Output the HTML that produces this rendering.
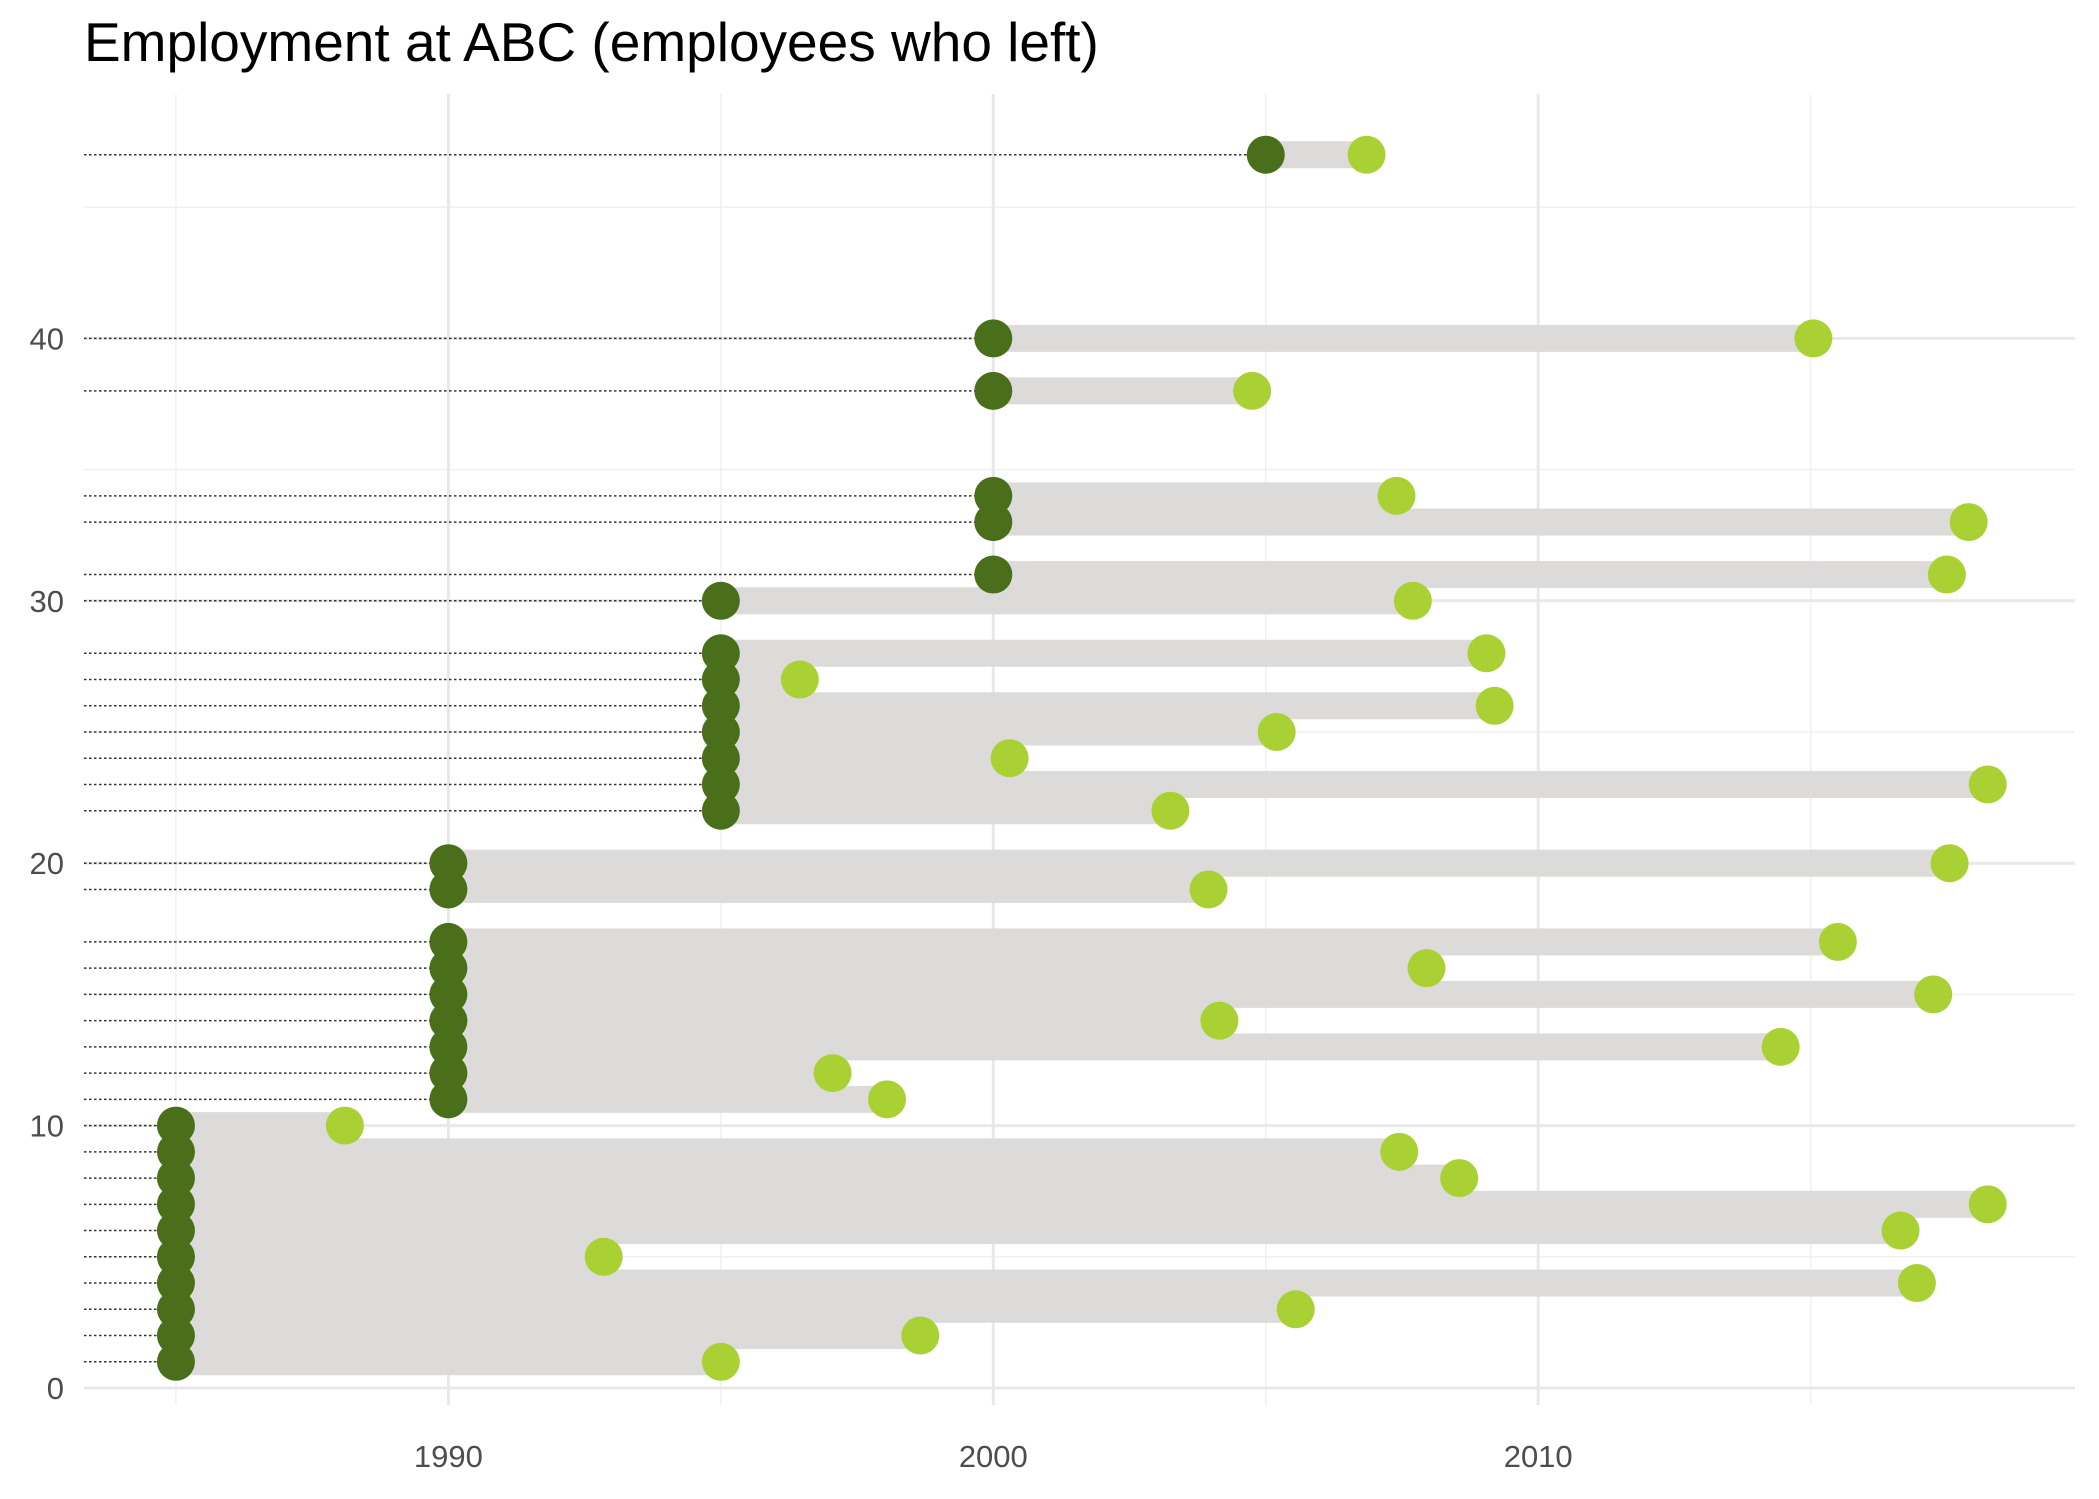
<!DOCTYPE html>
<html><head><meta charset="utf-8"><style>
html,body{margin:0;padding:0;background:#fff;}
svg{display:block;font-family:"Liberation Sans",Arial,sans-serif;}
</style></head><body>
<svg id="chart" width="2099" height="1499" viewBox="0 0 2099 1499" xmlns="http://www.w3.org/2000/svg">
<text x="84" y="61" font-size="55" fill="#000">Employment at ABC (employees who left)</text>
<g id="grid"></g><g id="bars"></g><g id="dots"></g><g id="pts"></g><g id="axes"></g>
</svg>
<script>
const ids = [1,2,3,4,5,6,7,8,9,10,11,12,13,14,15,16,17,19,20,22,23,24,25,26,27,28,30,31,33,34,38,40,47];
const startYears = [1985,1985,1985,1985,1985,1985,1985,1985,1985,1985,1990,1990,1990,1990,1990,1990,1990,1990,1990,1995,1995,1995,1995,1995,1995,1995,1995,2000,2000,2000,2000,2000,2005];
const endYears = [1995.0,1998.66,2005.55,2016.95,1992.85,2016.65,2018.25,2008.55,2007.45,1988.1,1998.05,1997.05,2014.45,2004.15,2017.25,2007.95,2015.5,2003.95,2017.55,2003.25,2018.25,2000.3,2005.2,2009.2,1996.45,2009.05,2007.7,2017.5,2017.9,2007.4,2004.75,2015.05,2006.85];
const xTicks = [1990,2000,2010];
const xMinor = [1985,1995,2005,2015];
const yTicks = [0,10,20,30,40];
const yMinor = [5,15,25,35,45];

const NS="http://www.w3.org/2000/svg";
const X0=84,X1=2075,Y0=94,Y1=1405;
const x = v => 448.4 + (v-1990)*54.49;
const y = v => 1388 - v*26.24;
function mk(tag,attrs,parent){const e=document.createElementNS(NS,tag);for(const k in attrs)e.setAttribute(k,attrs[k]);document.getElementById(parent).appendChild(e);return e;}

xMinor.forEach(v=>{const l=mk('line',{x1:x(v),x2:x(v),y1:Y0,y2:Y1,stroke:'#f0f0f0','stroke-width':1.5},'grid');

});
yMinor.forEach(v=>{const l=mk('line',{x1:X0,x2:X1,y1:y(v),y2:y(v),stroke:'#f0f0f0','stroke-width':1.5},'grid');

});
xTicks.forEach(v=>{const l=mk('line',{x1:x(v),x2:x(v),y1:Y0,y2:Y1,stroke:'#e8e8e8','stroke-width':3},'grid');


const t=mk('text',{x:x(v),y:1467,'text-anchor':'middle','font-size':31,fill:'#4d4d4d'},'axes');t.textContent=v;

});
yTicks.forEach(v=>{const l=mk('line',{x1:X0,x2:X1,y1:y(v),y2:y(v),stroke:'#e8e8e8','stroke-width':3},'grid');


const t=mk('text',{x:64,y:y(v)+11,'text-anchor':'end','font-size':31,fill:'#4d4d4d'},'axes');t.textContent=v;

});

ids.forEach((id,i)=>{
 const s=startYears[i],e=endYears[i];
 const b=mk('rect',{x:Math.min(x(s),x(e)),y:y(id)-13.5,width:Math.abs(x(e)-x(s)),height:27,fill:'#dcdbda'},'bars');
 
 
 const d=mk('line',{x1:X0,x2:x(s),y1:y(id),y2:y(id),stroke:'#333','stroke-width':1.5,'stroke-dasharray':'2.5,2.5'},'dots');
 
 
 const c1=mk('circle',{cx:x(s),cy:y(id),r:19,fill:'#4a6f1b'},'pts');
 
 
 const c2=mk('circle',{cx:x(e),cy:y(id),r:19,fill:'#a9d134'},'pts');
 
 
});
</script>
</body></html>
